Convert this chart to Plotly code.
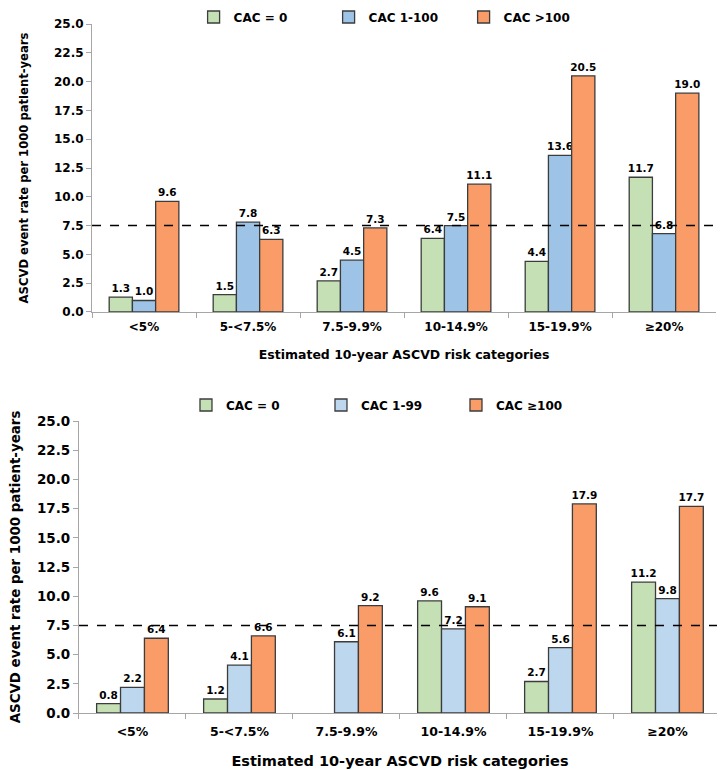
import plotly.graph_objects as go
from plotly.subplots import make_subplots

categories = ["<5%", "5-<7.5%", "7.5-9.9%", "10-14.9%", "15-19.9%", "≥20%"]

# top panel
top_names = ["CAC = 0", "CAC 1-100", "CAC >100"]
top_cac0 = [1.3, 1.5, 2.7, 6.4, 4.4, 11.7]
top_cac1 = [1.0, 7.8, 4.5, 7.5, 13.6, 6.8]
top_cac100 = [9.6, 6.3, 7.3, 11.1, 20.5, 19.0]

# bottom panel
bot_names = ["CAC = 0", "CAC 1-99", "CAC ≥100"]
bot_cac0 = [0.8, 1.2, None, 9.6, 2.7, 11.2]
bot_cac1 = [2.2, 4.1, 6.1, 7.2, 5.6, 9.8]
bot_cac100 = [6.4, 6.6, 9.2, 9.1, 17.9, 17.7]

ref_rate = 7.5
y_ticks = [0, 2.5, 5, 7.5, 10, 12.5, 15, 17.5, 20, 22.5, 25]

FONT = "DejaVu Sans"
OUTLINE = "#3c3c3c"
AXIS = "#a6a6a6"


def bold(size):
    return dict(family=FONT, size=size, color="black", weight="bold")


fig = make_subplots(rows=2, cols=1)

panels = [
    (1, top_names, [top_cac0, top_cac1, top_cac100], ["#c5e0b4", "#9dc3e6", "#f99c68"], "legend"),
    (2, bot_names, [bot_cac0, bot_cac1, bot_cac100], ["#c5e0b4", "#bdd7ee", "#f99c68"], "legend2"),
]

for row, names, series, colors, leg in panels:
    for name, vals, col in zip(names, series, colors):
        fig.add_trace(go.Bar(
            x=categories, y=vals, name=name,
            marker=dict(color=col, line=dict(color=OUTLINE, width=1.3)),
            text=[None if v is None else f"{v:.1f}" for v in vals],
            textposition="outside", cliponaxis=False, constraintext="none",
            textfont=bold(10.5),
            legend=leg,
        ), row=row, col=1)
    # dashed reference line at 7.5
    fig.add_hline(y=ref_rate, line=dict(color="black", width=1.5, dash="dash"), row=row, col=1)

for row in [1, 2]:
    fig.update_xaxes(
        showline=True, linecolor=AXIS, linewidth=1,
        ticks="outside", tickson="boundaries", ticklen=5, tickcolor=AXIS,
        showgrid=False, automargin=False,
        row=row, col=1)
    fig.update_yaxes(
        range=[0, 25], tickvals=y_ticks, tickformat=".1f",
        showline=True, linecolor=AXIS, linewidth=1,
        ticks="outside", ticklen=5, tickcolor=AXIS,
        showgrid=False, zeroline=False, automargin=False,
        row=row, col=1)

# page body has an 8px margin, so positions below are shifted by that
fig.update_xaxes(domain=[0.1159, 0.9766], tickfont=bold(12), ticklabelstandoff=4,
                 title=dict(text="Estimated 10-year ASCVD risk categories", standoff=16,
                            font=bold(12.5)),
                 row=1, col=1)
fig.update_xaxes(domain=[0.0979, 0.9834], tickfont=bold(12.5), ticklabelstandoff=7,
                 title=dict(text="Estimated 10-year ASCVD risk categories", standoff=17,
                            font=bold(14.5)),
                 row=2, col=1)
fig.update_yaxes(domain=[0.6052, 0.9792], tickfont=bold(12),
                 title=dict(text="ASCVD event rate per 1000 patient-years", standoff=22,
                            font=bold(11.6)),
                 row=1, col=1)
fig.update_yaxes(domain=[0.0844, 0.4636], tickfont=bold(13.5),
                 title=dict(text="ASCVD event rate per 1000 patient-years", standoff=16,
                            font=bold(13.4)),
                 row=2, col=1)

legend_style = dict(orientation="h", xanchor="left", yanchor="middle",
                    itemwidth=30, entrywidth=90, traceorder="normal",
                    font=bold(12), bgcolor="rgba(0,0,0,0)")

fig.update_layout(
    width=725, height=770,
    margin=dict(l=0, r=0, t=0, b=0, autoexpand=False),
    plot_bgcolor="white", paper_bgcolor="white",
    barmode="group", bargap=0.33, bargroupgap=0,
    font=dict(family=FONT, color="black"),
    legend=dict(x=0.256, y=0.9883, **legend_style),
    legend2=dict(x=0.2455, y=0.4844, **legend_style),
)

fig.write_html("out.html")
